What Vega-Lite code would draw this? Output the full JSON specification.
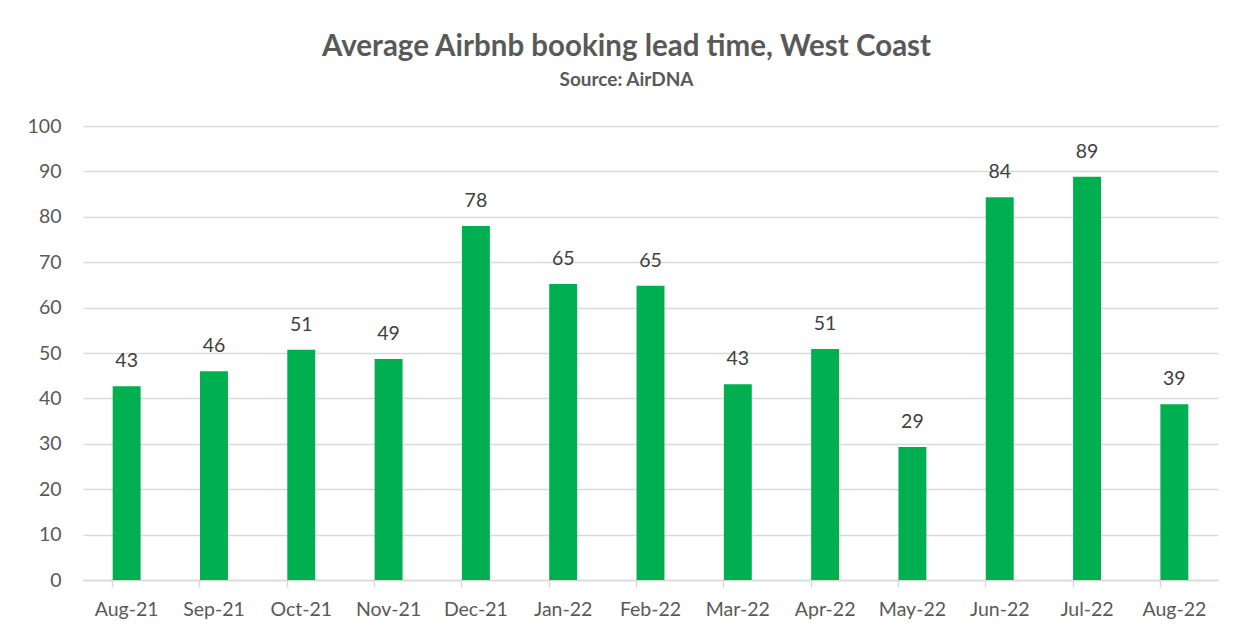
{
  "$schema": "https://vega.github.io/schema/vega-lite/v6.json",
  "width": 1135,
  "height": 454,
  "autosize": {"type": "none"},
  "padding": {"left": 83, "top": 126, "right": 27, "bottom": 57},
  "background": "white",
  "title": {
    "text": "Average Airbnb booking lead time, West Coast",
    "subtitle": "Source: AirDNA",
    "font": "Lato",
    "fontSize": 29.5,
    "fontWeight": "bold",
    "color": "#595959",
    "subtitleFont": "Lato",
    "subtitleFontSize": 19,
    "subtitleFontWeight": "bold",
    "subtitleColor": "#595959",
    "subtitlePadding": 9,
    "anchor": "middle",
    "dx": -24,
    "offset": 25
  },
  "data": {
    "values": [
      {"month": "Aug-21", "value": 42.7},
      {"month": "Sep-21", "value": 46.0},
      {"month": "Oct-21", "value": 50.7},
      {"month": "Nov-21", "value": 48.7},
      {"month": "Dec-21", "value": 78.0},
      {"month": "Jan-22", "value": 65.2},
      {"month": "Feb-22", "value": 64.8},
      {"month": "Mar-22", "value": 43.1},
      {"month": "Apr-22", "value": 50.9},
      {"month": "May-22", "value": 29.3},
      {"month": "Jun-22", "value": 84.3},
      {"month": "Jul-22", "value": 88.8},
      {"month": "Aug-22", "value": 38.7}
    ]
  },
  "encoding": {
    "x": {
      "field": "month",
      "type": "nominal",
      "sort": null,
      "title": null,
      "scale": {"paddingInner": 0.68, "paddingOuter": 0.34},
      "axis": {
        "labelAngle": 0,
        "labelFont": "Lato",
        "labelFontSize": 19.5,
        "labelColor": "#595959",
        "labelPadding": 13,
        "domainColor": "#d9d9d9",
        "domainWidth": 1.5,
        "tickColor": "#d9d9d9",
        "tickWidth": 1.5,
        "tickSize": 7,
        "bandPosition": 0,
        "grid": false
      }
    },
    "y": {
      "field": "value",
      "type": "quantitative",
      "title": null,
      "scale": {"domain": [0, 100]},
      "axis": {
        "values": [0, 10, 20, 30, 40, 50, 60, 70, 80, 90, 100],
        "labelFont": "Lato",
        "labelFontSize": 19.5,
        "labelColor": "#595959",
        "labelPadding": 22,
        "domain": false,
        "ticks": false,
        "gridColor": "#d9d9d9",
        "gridWidth": 1.5
      }
    }
  },
  "layer": [
    {"mark": {"type": "bar", "color": "#00B050"}},
    {
      "mark": {"type": "text", "font": "Lato", "fontSize": 19.5, "color": "#404040", "baseline": "alphabetic", "dy": -19},
      "encoding": {"text": {"field": "value", "type": "quantitative", "format": ".0f"}}
    }
  ],
  "config": {"view": {"stroke": null}}
}
